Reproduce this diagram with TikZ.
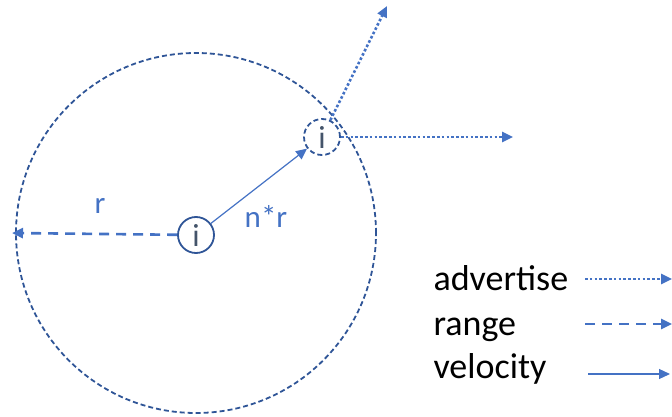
\documentclass[tikz,border=0pt]{standalone}
\usepackage{fontspec}
\setmainfont{Carlito}
\usetikzlibrary{arrows.meta}
\definecolor{lblue}{HTML}{4472C4}
\definecolor{dblue}{HTML}{2F5597}
\definecolor{igray}{HTML}{44546A}
\begin{document}
\begin{tikzpicture}[x=1pt,y=-1pt,
  agent/.style={circle,draw=dblue,line width=1.8pt,minimum size=36pt,inner sep=0pt,text=igray,font=\fontsize{32}{32}\selectfont},
  tip/.style={-{Triangle[length=11pt,width=10pt]}},
  adv/.style={lblue,line width=2.6pt,dash pattern=on 2.6pt off 2.2pt,tip},
  rng/.style={lblue,line width=2.6pt,dash pattern=on 10pt off 7pt,tip},
  vel/.style={lblue,line width=1.2pt,tip},
  lbl/.style={text=lblue,font=\fontsize{31}{31}\selectfont},
  leg/.style={text=black,font=\fontsize{36}{36}\selectfont,anchor=base west}]
\useasboundingbox (0,0) rectangle (672,417);
\node[circle,draw=dblue,line width=1.8pt,dash pattern=on 5pt off 3pt,minimum size=360pt,inner sep=0pt] (range) at (196,233) {};
\node[agent] (c) at (196,235) {i};
\node[agent,dash pattern=on 5pt off 3pt] (n) at (322,137) {i};
\coordinate (rend) at (12,233);
\coordinate (up) at (387,6);
\coordinate (right) at (513,137);
\draw[rng] (c) -- (rend);
\draw[vel] (c) -- (n);
\draw[adv] (n) -- (up);
\draw[adv] (n) -- (right);
\node[lbl] (r) at (100,206) {r};
\node[lbl] (nr) at (266,216) {n*r};
\node[leg] (la) at (430,290) {advertise};
\node[leg] (lr) at (430,335) {range};
\node[leg] (lv) at (430,378) {velocity};
\coordinate (a1) at (585,279); \coordinate (a2) at (672,279);
\coordinate (r1) at (585,324); \coordinate (r2) at (672,324);
\coordinate (v1) at (588,374); \coordinate (v2) at (670,374);
\draw[adv] (a1) -- (a2);
\draw[rng] (r1) -- (r2);
\draw[vel] (v1) -- (v2);
\end{tikzpicture}
\end{document}
